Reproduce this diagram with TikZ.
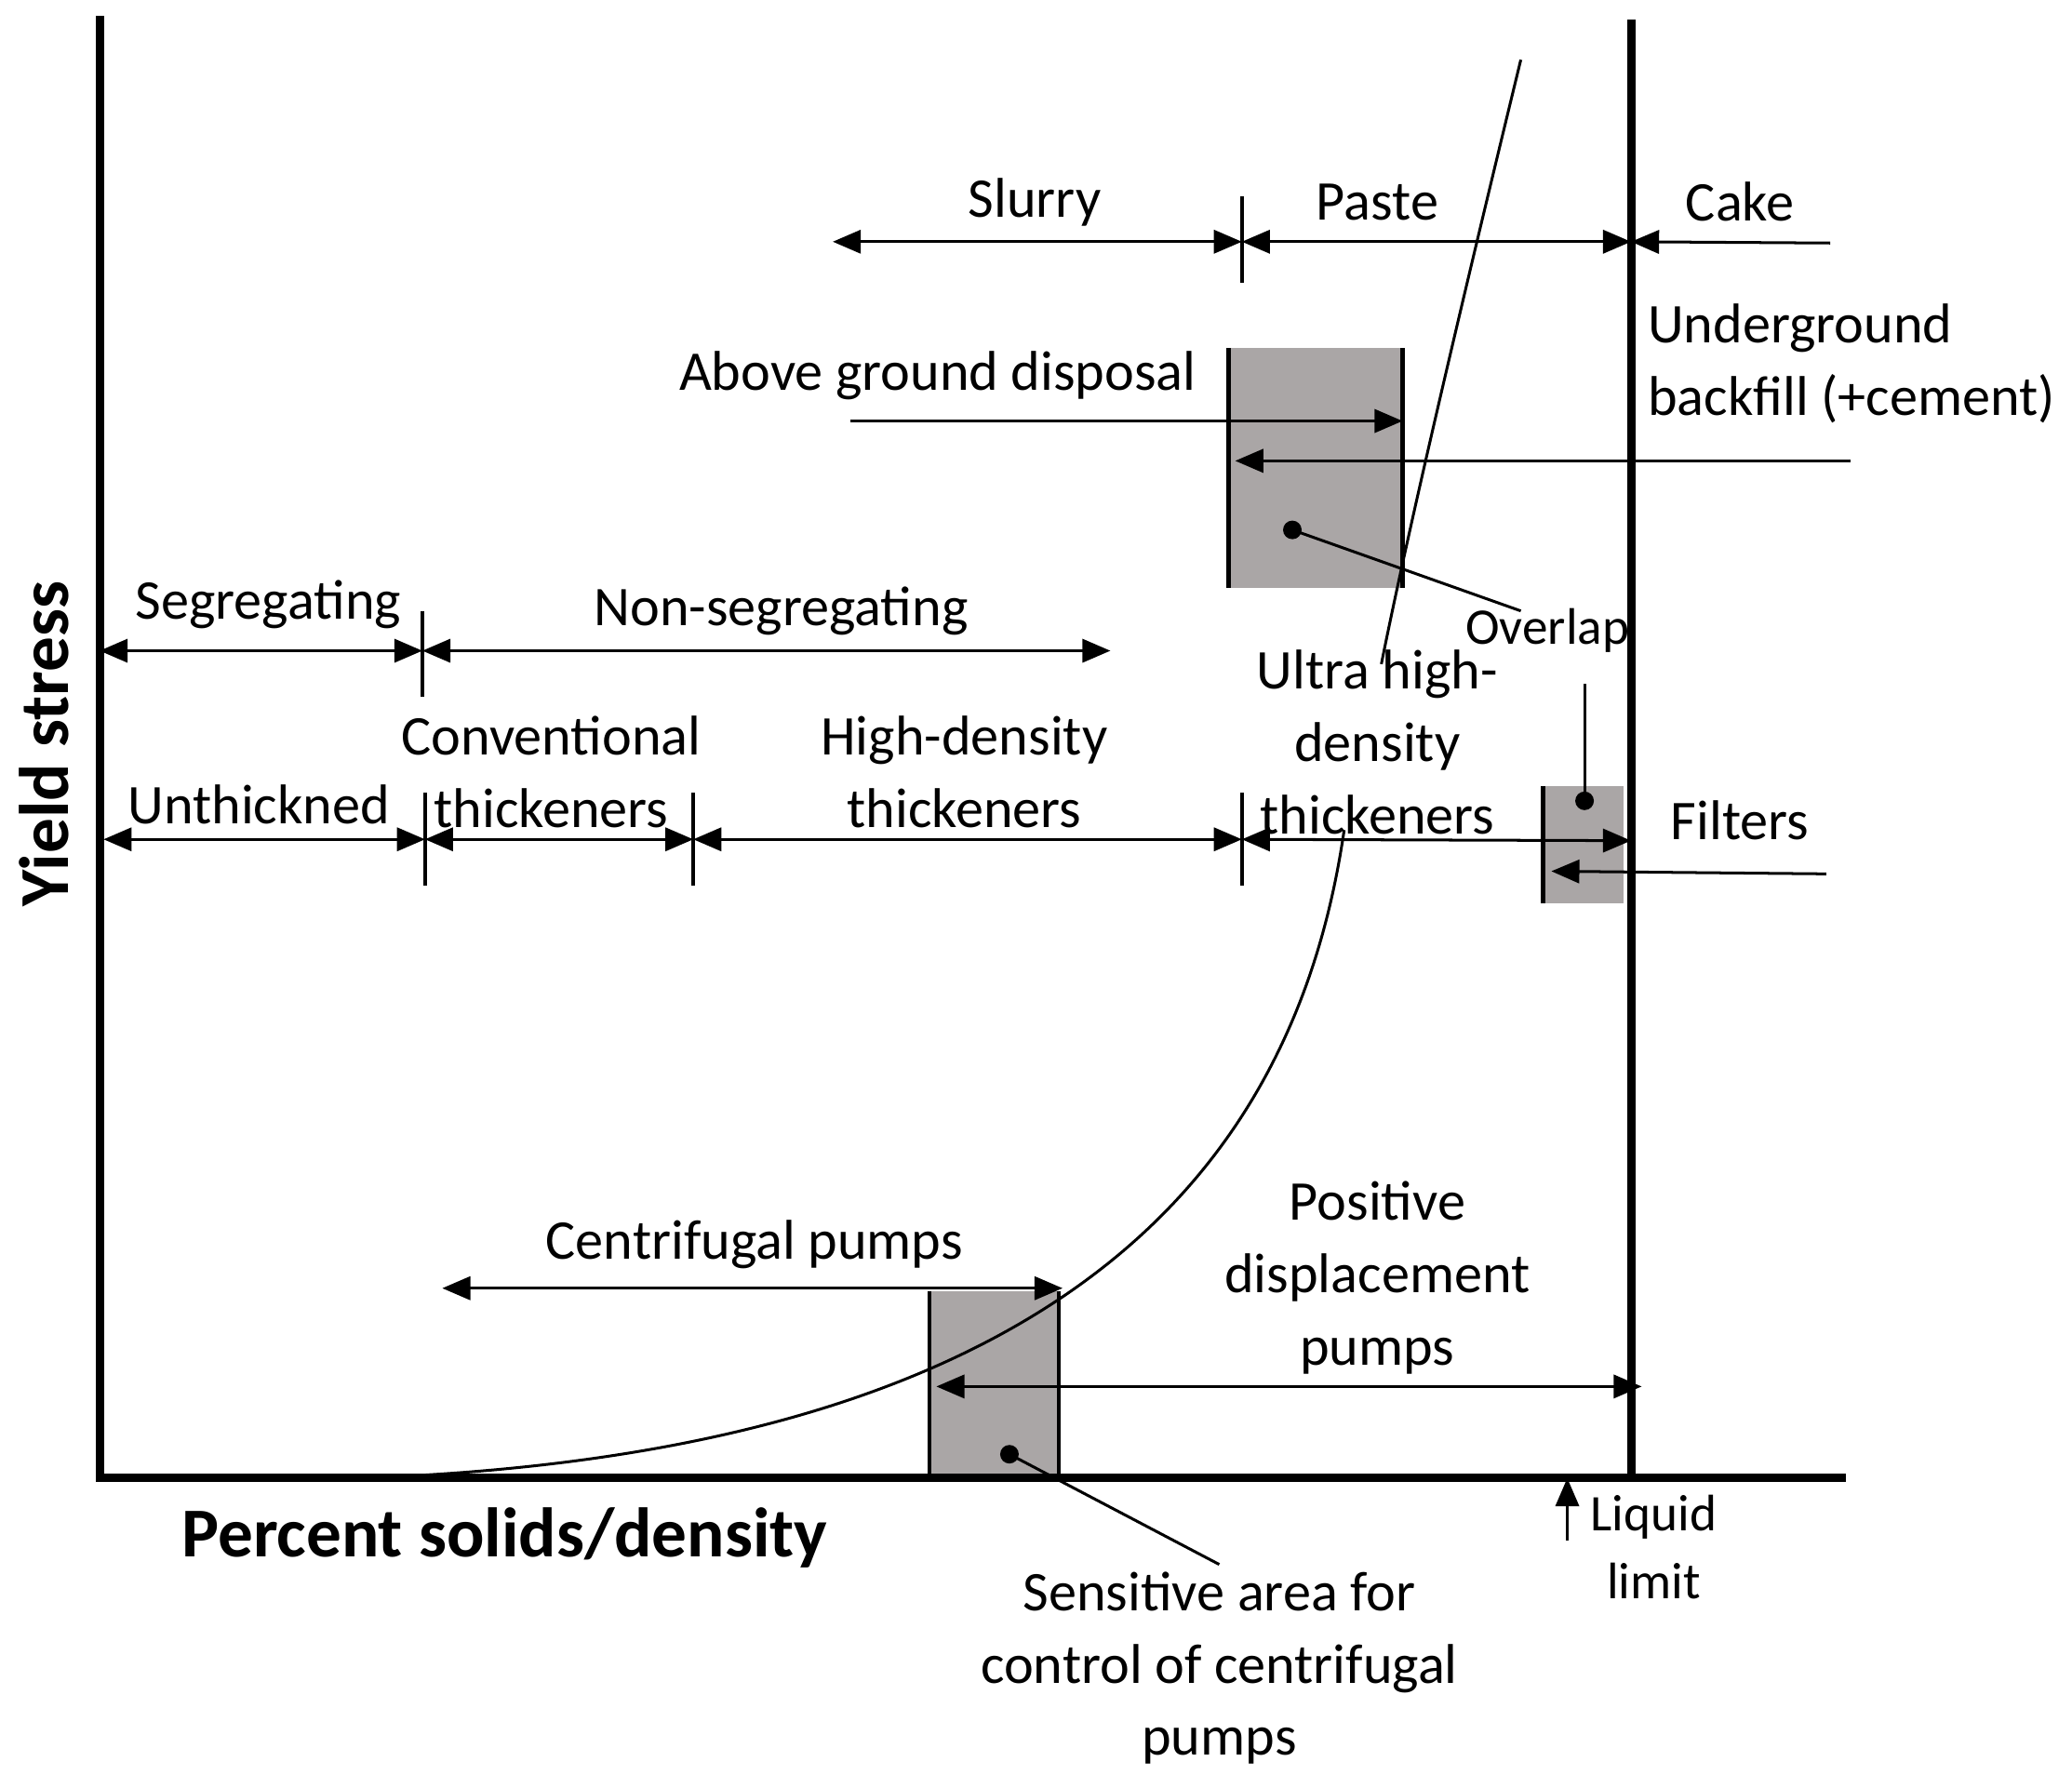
\documentclass[tikz,border=0pt]{standalone}
\usepackage{fontspec}
\setmainfont{Carlito}
\usetikzlibrary{arrows.meta}
\definecolor{boxgray}{HTML}{AAA6A6}
\begin{document}
\begin{tikzpicture}[x=0.01cm,y=-0.01cm,
  lab/.style={font=\fontsize{12}{15.5}\selectfont,align=center,inner sep=0pt},
  big/.style={font=\fontsize{15}{18}\selectfont\bfseries,inner sep=0pt},
  arr/.style={line width=0.6pt,-{Triangle[length=6pt,width=5pt]}},
  darr/.style={line width=0.6pt,{Triangle[length=6pt,width=5pt]}-{Triangle[length=6pt,width=5pt]}},
  tick/.style={line width=0.9pt},
  axis/.style={line width=1.8pt},
  gbox/.style={fill=boxgray,draw=none}]
\useasboundingbox (0,0) rectangle (1560,1336);
% gray boxes
\fill[boxgray] (925,262) rectangle (1056,443);
\draw[line width=1pt] (925,262) -- (925,443) (1056,262) -- (1056,443);
\fill[boxgray] (1162,592) rectangle (1222,680);
\draw[line width=1pt] (1162,592) -- (1162,680);
\fill[boxgray] (700,972) rectangle (797,1113);
\draw[line width=0.8pt] (700,972) -- (700,1113) (797,972) -- (797,1113);
% axes
\coordinate (O) at (75,1113);
\coordinate (Ytop) at (75,12);
\coordinate (Xend) at (1390,1113);
\draw[axis] (Ytop) -- (O) -- (Xend);
\draw[axis] (1228,15) -- (1228,1113);
% curves
\draw[line width=0.6pt] (1145,45) .. controls (1100,230) and (1060,400) .. (1040,500);
\draw[line width=0.6pt] (270,1113) .. controls (800,1095) and (975,880) .. (1012,625);
% Slurry / Paste / Cake
\draw[darr] (627,182) -- (935,182);
\draw[darr] (935,182) -- (1228,182);
\draw[arr] (1378,183) -- (1228,182);
\draw[tick] (935,148) -- (935,213);
\node[lab] at (779,152) {Slurry};
\node[lab] at (1037,152) {Paste};
\node[lab] at (1310,152) {Cake};
% above ground / underground
\node[lab] at (706,283) {Above ground disposal};
\draw[arr] (640,317) -- (1056,317);
\node[lab,anchor=west,align=left] at (1240,274) {Underground\\backfill (+cement)};
\draw[arr] (1393,347) -- (930,347);
% overlap
\fill (973,399) circle (7);
\draw[line width=0.6pt] (973,399) -- (1145,460);
\node[lab,font=\fontsize{11}{13}\selectfont] at (1165,475) {Overlap};
% segregating row
\draw[darr] (75,490) -- (318,490);
\draw[darr] (318,490) -- (836,490);
\draw[tick] (318,460) -- (318,525);
\node[lab] at (202,455) {Segregating};
\node[lab] at (588,460) {Non-segregating};
% thickener row
\draw[darr] (78,632) -- (320,632);
\draw[darr] (320,632) -- (522,632);
\draw[darr] (522,632) -- (935,632);
\draw[darr] (935,632) -- (1228,633);
\draw[tick] (320,597) -- (320,667);
\draw[tick] (522,597) -- (522,667);
\draw[tick] (935,597) -- (935,667);
\node[lab] at (195,606) {Unthickned};
\node[lab] at (415,581) {Conventional\\thickeners};
\node[lab] at (726,581) {High-density\\thickeners};
\node[lab] at (1037,559) {Ultra high-\\density\\thickeners};
% filters
\fill (1193,603) circle (7);
\draw[line width=0.6pt] (1193,603) -- (1193,515);
\node[lab] at (1310,618) {Filters};
\draw[arr] (1375,658) -- (1168,656);
% pumps
\node[lab] at (568,937) {Centrifugal pumps};
\draw[darr] (333,970) -- (800,970);
\node[lab] at (1037,962) {Positive\\displacement\\pumps};
\draw[darr] (705,1044) -- (1236,1044);
\fill (760,1095) circle (7);
\draw[line width=0.6pt] (760,1095) -- (918,1178);
\node[lab] at (918,1256) {Sensitive area for\\control of centrifugal\\pumps};
% liquid limit
\draw[arr] (1180,1160) -- (1180,1113);
\node[lab,font=\fontsize{11}{14.5}\selectfont] at (1245,1165) {Liquid\\limit};
% axis labels
\node[big,rotate=90] at (33,560) {Yield stress};
\node[big] at (380,1158) {Percent solids/density};
\end{tikzpicture}
\end{document}
